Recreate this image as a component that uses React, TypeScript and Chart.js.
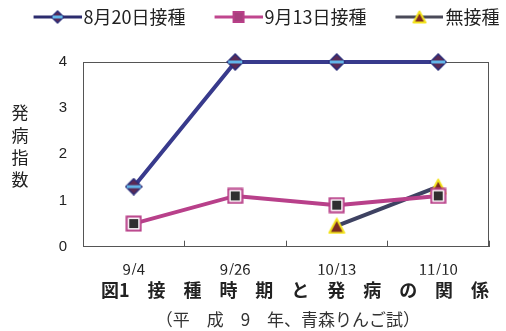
import React, { useEffect, useRef } from "react";
import { Chart, registerables } from "chart.js";

Chart.register(...registerables);

const categories = ["9/4", "9/26", "10/13", "11/10"];
const seriesNames = ["8月20日接種", "9月13日接種", "無接種"];
const aug20Values = [1.3, 4, 4, 4];
const sep13Values = [0.5, 1.1, 0.9, 1.1];
const noInocValues: (number | null)[] = [null, null, 0.45, 1.3];
const yMin = 0;
const yMax = 4;
const yStep = 1;
const yTitle = "発病指数";
const caption = "　図1　接　種　時　期　と　発　病　の　関　係";
const subCaption = " （平　成　9　年、青森りんご試）";

const FAMILY = "'Noto Sans CJK JP', 'Noto Sans', sans-serif";

function makeCanvas(w: number, h: number, draw: (ctx: CanvasRenderingContext2D) => void) {
  const c = document.createElement("canvas");
  c.width = w;
  c.height = h;
  const ctx = c.getContext("2d")!;
  draw(ctx);
  return c;
}

function drawDiamond(ctx: CanvasRenderingContext2D, cx: number, cy: number, r: number) {
  ctx.beginPath();
  ctx.moveTo(cx, cy - r);
  ctx.lineTo(cx + r, cy);
  ctx.lineTo(cx, cy + r);
  ctx.lineTo(cx - r, cy);
  ctx.closePath();
  ctx.fillStyle = "#5a2a55";
  ctx.fill();
  ctx.lineWidth = 1.5;
  ctx.strokeStyle = "#2c2f7a";
  ctx.stroke();
  ctx.fillStyle = "#62b6ea";
  ctx.fillRect(cx - r + 1, cy - 1.5, 2 * r - 2, 3);
}

function drawSquare(ctx: CanvasRenderingContext2D, x: number, y: number, s: number, legend = false) {
  ctx.fillStyle = "#b83f88";
  ctx.fillRect(x, y, s, s);
  if (legend) {
    ctx.fillStyle = "#a8407e";
    ctx.fillRect(x + 2, y + 2, s - 4, s - 4);
    return;
  }
  ctx.fillStyle = "#ffffff";
  ctx.fillRect(x + 2, y + 2, s - 4, s - 4);
  ctx.fillStyle = "#2f2f2f";
  ctx.fillRect(x + 3.5, y + 3.5, s - 7, s - 7);
}

function drawTriangle(ctx: CanvasRenderingContext2D, cx: number, cy: number, w: number, h: number) {
  ctx.beginPath();
  ctx.moveTo(cx, cy - h / 2);
  ctx.lineTo(cx + w / 2, cy + h / 2);
  ctx.lineTo(cx - w / 2, cy + h / 2);
  ctx.closePath();
  ctx.fillStyle = "#7b2a22";
  ctx.fill();
  ctx.lineJoin = "round";
  ctx.lineWidth = 2;
  ctx.strokeStyle = "#f3e31c";
  ctx.stroke();
}

const LEG_BOX = 68;
const LEG_W = LEG_BOX + 14;
const LEG_H = 16;
const LEGEND_HEIGHT = 56;

function legendImage(color: string, marker: (ctx: CanvasRenderingContext2D, cx: number, cy: number) => void) {
  return makeCanvas(LEG_W, LEG_H, (ctx) => {
    ctx.strokeStyle = color;
    ctx.lineWidth = 3;
    ctx.beginPath();
    ctx.moveTo(LEG_W - 48, LEG_H / 2);
    ctx.lineTo(LEG_W, LEG_H / 2);
    ctx.stroke();
    marker(ctx, LEG_W - 24, LEG_H / 2);
  });
}

export default function App() {
  const ref = useRef<HTMLCanvasElement>(null);

  useEffect(() => {
    if (!ref.current) return;

    const diamondImg = makeCanvas(18, 18, (ctx) => drawDiamond(ctx, 9, 9, 8));
    const squareImg = makeCanvas(17, 17, (ctx) => drawSquare(ctx, 0.5, 0.5, 16));
    const triImg = makeCanvas(18, 17, (ctx) => drawTriangle(ctx, 9, 8.5, 15, 14));

    const lineColors = ["#383a8c", "#b8408a", "#3e4262"];
    const legendImgs = [
      legendImage("#2c2c6e", (ctx, cx, cy) => drawDiamond(ctx, cx, cy, 6)),
      legendImage("#c0468e", (ctx, cx, cy) => drawSquare(ctx, cx - 6, cy - 6, 12, true)),
      legendImage("#4a4a58", (ctx, cx, cy) => drawTriangle(ctx, cx, cy, 12, 11)),
    ];

    const legendHeightPlugin = {
      id: "legendHeight",
      beforeLayout(chart: any) {
        const lg = chart.legend;
        if (lg && !lg.__patched) {
          const orig = lg.fit.bind(lg);
          lg.fit = function () {
            orig();
            this.height = LEGEND_HEIGHT;
          };
          lg.__patched = true;
        }
      },
    };

    const boxPlugin = {
      id: "plotBox",
      beforeDatasetsDraw(chart: any) {
        const { ctx, chartArea } = chart;
        ctx.save();
        ctx.strokeStyle = "#555";
        ctx.lineWidth = 1;
        ctx.strokeRect(
          Math.round(chartArea.left) + 0.5,
          Math.round(chartArea.top) + 0.5,
          Math.round(chartArea.right - chartArea.left) - 1,
          Math.round(chartArea.bottom - chartArea.top) - 1
        );
        ctx.restore();
      },
    };

    const yTitlePlugin = {
      id: "yTitleVertical",
      afterDraw(chart: any) {
        const { ctx, chartArea } = chart;
        ctx.save();
        ctx.font = `17px ${FAMILY}`;
        ctx.fillStyle = "#222";
        ctx.textAlign = "center";
        ctx.textBaseline = "middle";
        const chars = Array.from(yTitle);
        chars.forEach((ch, i) => {
          ctx.fillText(ch, 20, chartArea.top + 51 + i * 22.3);
        });
        ctx.restore();
      },
    };

    const chart = new Chart(ref.current, {
      type: "line",
      data: {
        labels: categories,
        datasets: [
          {
            label: seriesNames[0],
            data: aug20Values,
            borderColor: lineColors[0],
            backgroundColor: lineColors[0],
            borderWidth: 4,
            pointStyle: diamondImg as any,
            pointRadius: 9,
            clip: false as any,
          },
          {
            label: seriesNames[1],
            data: sep13Values,
            borderColor: lineColors[1],
            backgroundColor: lineColors[1],
            borderWidth: 4,
            pointStyle: squareImg as any,
            pointRadius: 9,
            clip: false as any,
          },
          {
            label: seriesNames[2],
            data: noInocValues,
            borderColor: lineColors[2],
            backgroundColor: lineColors[2],
            borderWidth: 4,
            pointStyle: triImg as any,
            pointRadius: 9,
            clip: false as any,
          },
        ],
      },
      options: {
        animation: false,
        responsive: false,
        devicePixelRatio: 1,
        layout: { padding: { top: 6, left: 0, right: 0, bottom: 0 } },
        scales: {
          x: {
            type: "category",
            offset: true,
            grid: {
              display: true,
              drawOnChartArea: false,
              drawTicks: true,
              tickLength: -6,
              color: "#555",
              offset: true,
            },
            border: { display: false },
            ticks: {
              font: { size: 15, family: FAMILY },
              color: "#222",
              padding: 20,
              maxRotation: 0,
              autoSkip: false,
            },
            afterFit: (s: any) => {
              s.height = 28;
              s.paddingRight = 17;
            },
          },
          y: {
            min: yMin,
            max: yMax,
            grid: { display: false, drawTicks: false, tickLength: 0 },
            border: { display: false },
            ticks: {
              stepSize: yStep,
              font: { size: 15, family: "'Liberation Sans', Arial, sans-serif" },
              color: "#222",
              padding: 16,
            },
            afterFit: (s: any) => {
              s.width = 83;
            },
          },
        },
        plugins: {
          tooltip: { enabled: false },
          legend: {
            display: true,
            position: "top",
            labels: {
              usePointStyle: true,
              pointStyleWidth: LEG_BOX,
              padding: 2,
              color: "#222",
              font: { size: 18, family: FAMILY },
              generateLabels: () =>
                seriesNames.map((name, i) => ({
                  text: name,
                  pointStyle: legendImgs[i] as any,
                  fillStyle: "rgba(0,0,0,0)",
                  strokeStyle: "rgba(0,0,0,0)",
                  lineWidth: 0,
                  hidden: false,
                  datasetIndex: i,
                  fontColor: "#222",
                })),
            },
          },
          title: {
            display: true,
            text: caption,
            position: "bottom",
            fullSize: false,
            weight: 10,
            color: "#222",
            font: { size: 18, weight: "bold", family: FAMILY, lineHeight: 1.2 },
            padding: { top: 5, bottom: 4 },
          },
          subtitle: {
            display: true,
            text: subCaption,
            position: "bottom",
            fullSize: false,
            weight: 20,
            color: "#333",
            font: { size: 17, family: FAMILY, lineHeight: 1.1 },
            padding: { top: 5, bottom: 2 },
          },
        },
      } as any,
      plugins: [legendHeightPlugin, boxPlugin, yTitlePlugin],
    });

    return () => chart.destroy();
  }, []);

  return (
    <div style={{ position: "absolute", left: 0, top: 0, width: 506, height: 331, background: "#fff" }}>
      <canvas ref={ref} width={506} height={331} style={{ display: "block", width: 506, height: 331 }} />
    </div>
  );
}
